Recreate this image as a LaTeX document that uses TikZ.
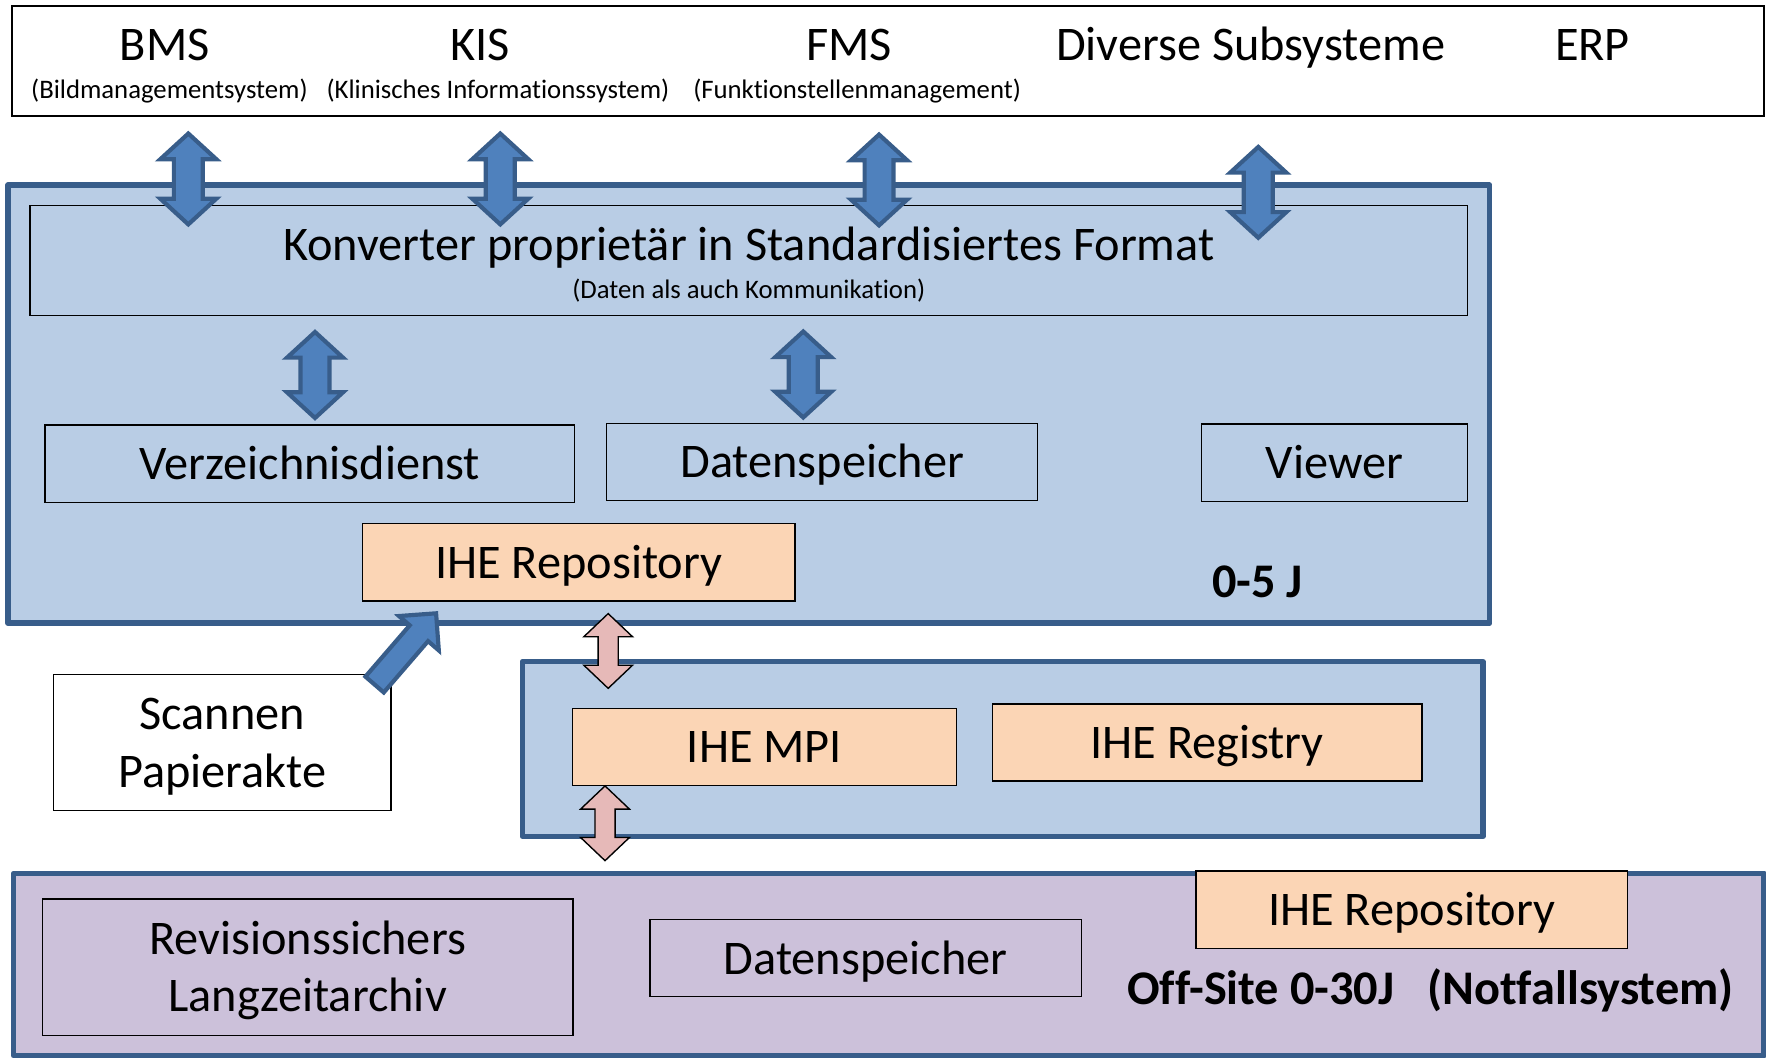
\documentclass[tikz,border=0pt]{standalone}
\usepackage{fontspec}
\setmainfont{Carlito}[Ligatures=NoCommon]
\definecolor{steel}{rgb}{0.22, 0.365, 0.541}
\definecolor{cobalt}{rgb}{0.31, 0.506, 0.741}
\definecolor{tierBlue}{rgb}{0.725, 0.804, 0.898}
\definecolor{peach}{rgb}{0.984, 0.835, 0.71}
\definecolor{rose}{rgb}{0.902, 0.725, 0.722}
\definecolor{lavender}{rgb}{0.8, 0.757, 0.855}
\usepackage{tikz}
\usetikzlibrary{shapes.arrows, positioning, calc}
\newcommand{\bigFont}{\fontsize{12.2}{14.55}\selectfont}
\newcommand{\smallFont}{\fontsize{6.75}{8}\selectfont}

\begin{document}
\begin{tikzpicture}[x=0.01cm, y=-0.01cm,
			boxStyle/.style={draw=black, line width=0.35pt, inner sep=0pt, font=\bigFont, text height=9.76pt, text depth=1.71pt},
			twoLine/.style={boxStyle, align=center, text height=24.31pt},
			ihe/.style={boxStyle, fill=peach},
			tierStyle/.style={draw=steel, line width=1.4pt, line join=round, inner sep=0pt},
			sysTitle/.style={font=\bigFont, anchor=base, inner sep=0pt},
			sysSub/.style={font=\smallFont, anchor=base, inner sep=0pt},
			dualArrow/.style={double arrow, rotate=90, draw=steel, fill=cobalt, line width=1.05pt, inner sep=0pt, inner ysep=0.11cm, double arrow head extend=0.12cm, double arrow tip angle=95, minimum width=0pt, minimum height=0.806cm},
			pinkArrow/.style={double arrow, rotate=90, draw=black, fill=rose, line width=0.35pt, inner sep=0pt, inner ysep=0.083cm, double arrow head extend=0.127cm, double arrow tip angle=93, minimum width=0pt, minimum height=0.663cm},
			scanArrow/.style={single arrow, draw=steel, fill=cobalt, line width=1.05pt, inner sep=0pt, inner ysep=0.089cm, single arrow head extend=0.126cm, single arrow tip angle=90, minimum width=0pt, minimum height=0.835cm}]
			
			\useasboundingbox (0,0) rectangle (1568,939.4);
			
			%%% Subsysteme
			\node[draw, line width=0.4pt, inner sep=0pt, minimum width=15.548cm, minimum height=0.977cm] (sysBar) at (788.6,54.15) {};
			\node[sysTitle] (bms) at (146.3,53.9) {BMS};
			\node[sysSub] (bmsSub) at (150.4,87.5) {(Bildmanagementsystem)};
			\node[sysTitle] (kis) at (426.3,53.9) {KIS};
			\node[sysSub] (kisSub) at (442.1,87.5) {(Klinisches Informationssystem)};
			\node[sysTitle] (fms) at (753.8,53.9) {FMS};
			\node[sysSub] (fmsSub) at (761,87.5) {(Funktionstellenmanagement)};
			\node[sysTitle] (diverse) at (1110.4,53.9) {Diverse Subsysteme};
			\node[sysTitle] (erp) at (1413.9,53.9) {ERP};
			
			%%% 0-5 J
			\node[tierStyle, fill=tierBlue, minimum width=13.149cm, minimum height=3.886cm] (tierShort) at (664.85,358.9) {};
			\node[boxStyle, minimum width=12.759cm, minimum height=0.978cm] (konv) at (664.85,231.4) {};
			\node[sysTitle] (konvTitle) at (664.85,230.9) {Konverter proprietär in Standardisiertes Format};
			\node[sysSub] (konvSub) at (664.85,265) {(Daten als auch Kommunikation)};
			
			\node[boxStyle, minimum width=4.702cm, minimum height=0.687cm] (verz) at (275.1,411.65) {Verzeichnisdienst};
			\node[boxStyle, minimum width=3.827cm, minimum height=0.686cm] (daten) at (729.95,410.2) {Datenspeicher};
			\node[boxStyle, minimum width=2.359cm, minimum height=0.69cm] (viewer) at (1184.85,410.9) {Viewer};
			\node[ihe, minimum width=3.836cm, minimum height=0.686cm] (repo) at (513.8,499.3) {IHE Repository};
			\node[sysTitle, font=\bigFont\bfseries] (shortTerm) at (1116.4,530.5) {0-5 J};
			
			\node[twoLine, fill=white, minimum width=2.998cm, minimum height=1.211cm] (scan) at (197.3,659.25) {Scannen\\Papierakte};
			
			%%% Index
			\node[tierStyle, fill=tierBlue, minimum width=8.524cm, minimum height=1.55cm] (tierIndex) at (890.2,665) {};
			\node[ihe, minimum width=3.412cm, minimum height=0.687cm] (mpi) at (678.8,663.25) {IHE MPI};
			\node[ihe, minimum width=3.812cm, minimum height=0.682cm] (registry) at (1071.7,659.2) {IHE Registry};
			
			%%% Off-Site
			\node[tierStyle, fill=lavender, minimum width=15.536cm, minimum height=1.616cm] (tierLong) at (789.2,856.5) {};
			\node[twoLine, minimum width=4.706cm, minimum height=1.21cm] (archiv) at (273.2,858.7) {Revisionssichers\\Langzeitarchiv};
			\node[boxStyle, minimum width=3.829cm, minimum height=0.684cm] (datenOff) at (768.55,850.7) {Datenspeicher};
			\node[ihe, minimum width=3.83cm, minimum height=0.685cm] (repoOff) at (1253.5,807.75) {IHE Repository};
			\node[sysTitle, font=\bigFont\bfseries] (longTerm) at (1270,892) {Off-Site 0-30J~~~(Notfallsystem)};
			
			%%% Pfeile
			\foreach \name/\x/\y in {bmsLink/167.2/158.9, kisLink/444.2/158.9, fmsLink/780.5/159.8, diverseLink/1117.2/170.8}
			\node[dualArrow] (\name) at (\x,\y) {};
			\foreach \name/\x/\y in {verzLink/279.7/332.95, datenLink/713.2/332.5}
			\node[dualArrow, minimum height=0.763cm] (\name) at (\x,\y) {};
			
			\node[pinkArrow] (repoLink) at (540,578) {};
			\node[pinkArrow] (mpiLink) at (537.2,731) {};
			\node[scanArrow, anchor=tail, rotate=49.2] (scanLink) at (331.4,609.2) {};
		\end{tikzpicture}
\end{document}
